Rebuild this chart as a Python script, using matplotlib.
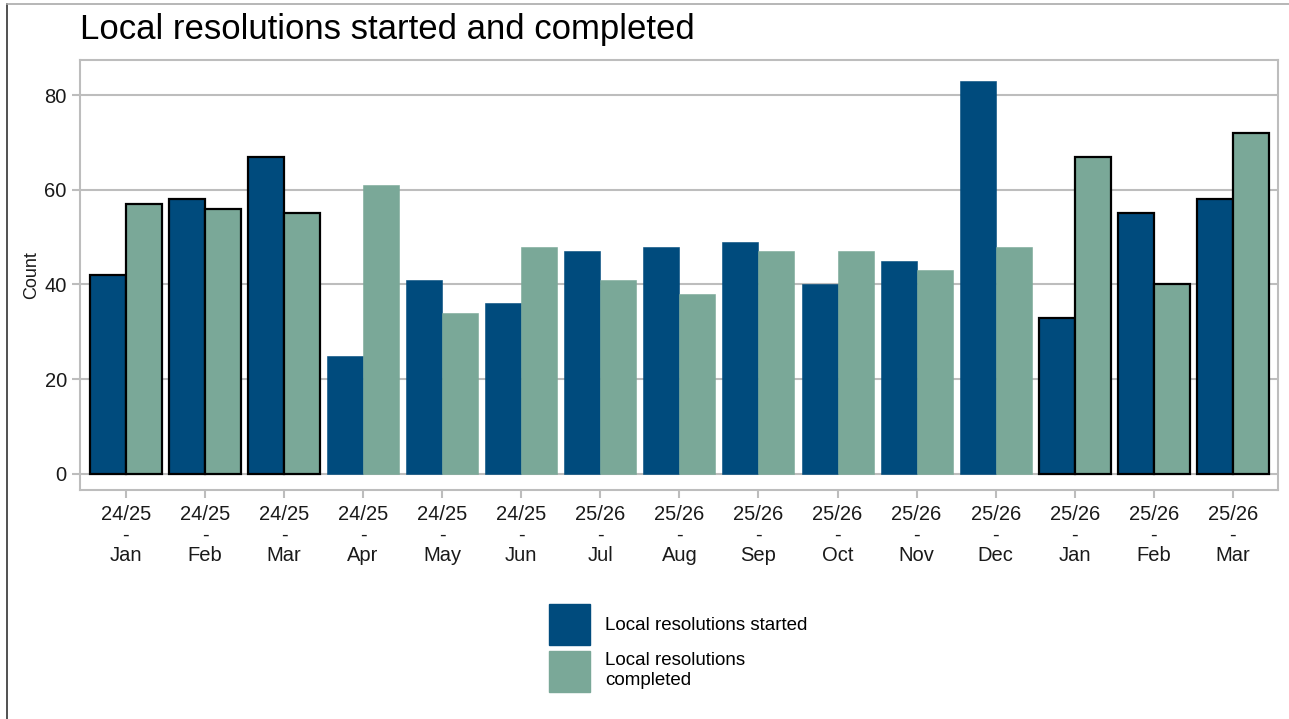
import numpy as np
import matplotlib.pyplot as plt
from matplotlib.lines import Line2D
from matplotlib.patches import Patch

plt.rcParams['font.family'] = ['Liberation Sans', 'DejaVu Sans']

years = ['24/25'] * 6 + ['25/26'] * 9
months = ['Jan', 'Feb', 'Mar', 'Apr', 'May', 'Jun', 'Jul', 'Aug', 'Sep',
          'Oct', 'Nov', 'Dec', 'Jan', 'Feb', 'Mar']
started = [42, 58, 67, 25, 41, 36, 47, 48, 49, 40, 45, 83, 33, 55, 58]
completed = [57, 56, 55, 61, 34, 48, 41, 38, 47, 47, 43, 48, 67, 40, 72]
highlighted = [0, 1, 2, 12, 13, 14]

blue = '#004b7d'
green = '#7aa898'
grey = '#bdbdbd'

fig = plt.figure(figsize=(12.89, 7.19), dpi=100)
ax = fig.add_axes([80 / 1289, 1 - 490 / 719, 1198 / 1289, 430 / 719])

x = np.arange(len(months))
w = 0.455
for i in x:
    hl = i in highlighted
    ec_b = 'black' if hl else blue
    ec_g = 'black' if hl else green
    lw = 1.6 if hl else 0.4
    ax.bar(i - w / 2, started[i], w, color=blue, edgecolor=ec_b, linewidth=lw, zorder=3)
    ax.bar(i + w / 2, completed[i], w, color=green, edgecolor=ec_g, linewidth=lw, zorder=3)

ax.set_xlim(-0.58, 14.57)
ax.set_ylim(-3.4, 87.4)
ax.set_yticks([0, 20, 40, 60, 80])
ax.set_xticks(x)
ax.set_xticklabels([f'{y}\n-\n{m}' for y, m in zip(years, months)], linespacing=1.08)
ax.yaxis.grid(True, color=grey, linewidth=1.5, zorder=0)
for s in ax.spines.values():
    s.set_color(grey)
    s.set_linewidth(1.5)
ax.tick_params(axis='both', colors=grey, labelcolor='#1a1a1a', labelsize=14.5,
               length=6, width=1.5)
ax.tick_params(axis='x', pad=5)
ax.set_ylabel('Count', fontsize=13, color='#1a1a1a', labelpad=3)

fig.text(80 / 1289, 1 - 30 / 719, 'Local resolutions started and completed',
         fontsize=25, va='center', ha='left', color='black')

handles = [Patch(facecolor=blue, edgecolor=blue),
           Patch(facecolor=green, edgecolor=green)]
fig.legend(handles, ['Local resolutions started', 'Local resolutions\ncompleted'],
           loc='upper left', bbox_to_anchor=(549 / 1289, 1 - 604 / 719),
           frameon=False, fontsize=13.5, handlelength=2.2, handleheight=3.0,
           handletextpad=0.8, labelspacing=0.3, borderpad=0, borderaxespad=0)

# page border visible at left and top of the reference
fig.add_artist(Line2D([7 / 1289, 7 / 1289], [0, 1 - 4 / 719], color='#333333', linewidth=1.2))
fig.add_artist(Line2D([7 / 1289, 1], [1 - 4 / 719, 1 - 4 / 719], color='#aaaaaa', linewidth=1.2))

fig.savefig('out.png', dpi=100)
